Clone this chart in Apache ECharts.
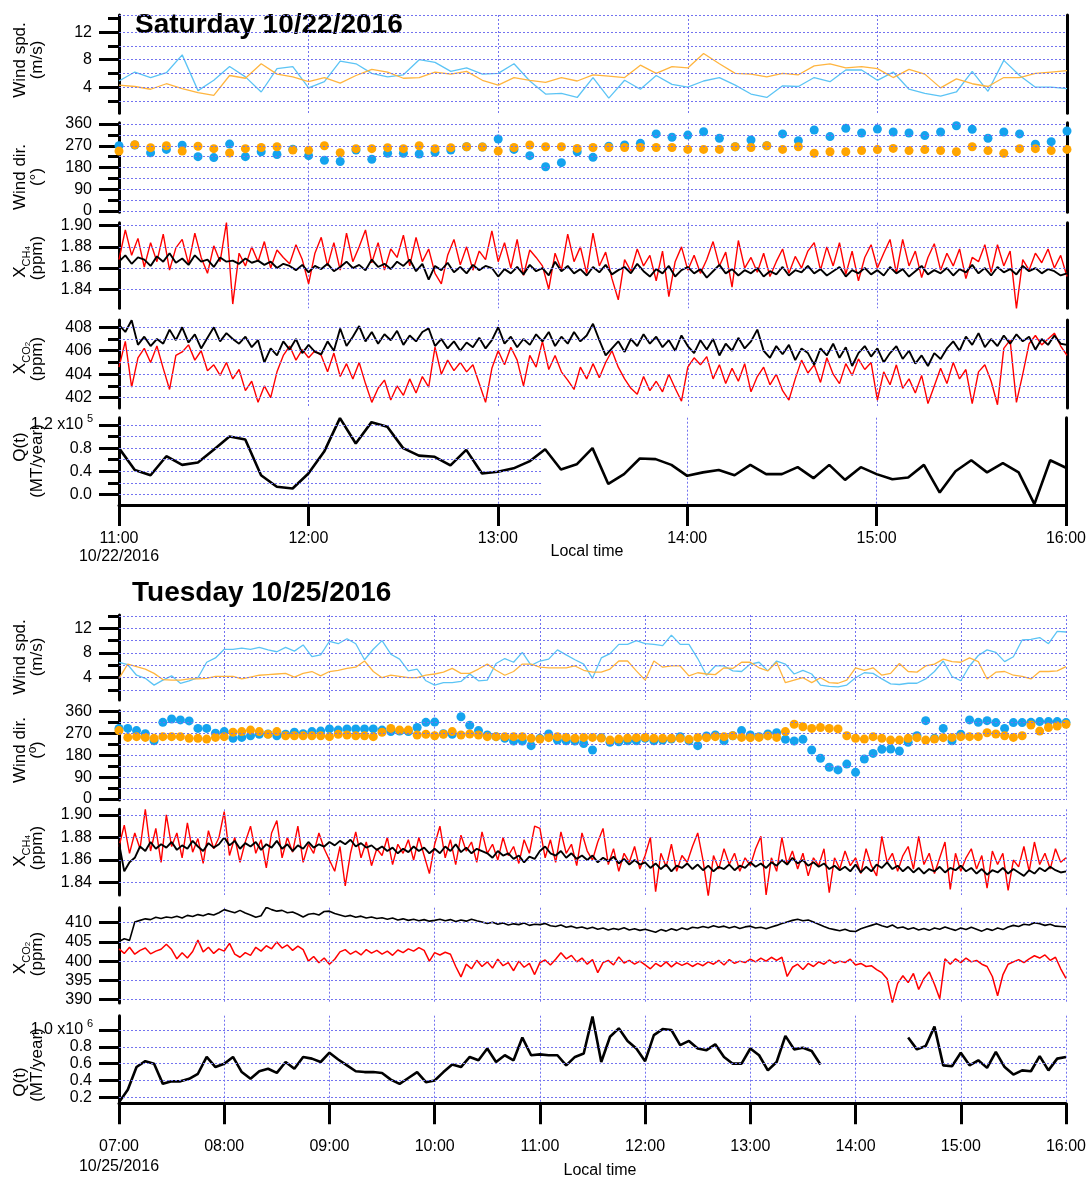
<!DOCTYPE html>
<html><head><meta charset="utf-8">
<script src="https://cdn.jsdelivr.net/npm/echarts@6/dist/echarts.min.js"></script>
<style>html,body{margin:0;padding:0;background:#fff}#c{width:1089px;height:1178px}</style>
</head><body><div id="c"></div>
<script>
// ===================== DATA =====================
// Saturday 10/22/2016 : 11:00 - 16:00
const satStart = 11;           // hours
const satStepWind = 5;         // minutes (wind, Q)
const satStepGas = 2;          // minutes (XCH4, XCO2)
const satTicksX = [11,12,13,14,15,16];

const satWsBlue = [4.9,6.2,5.4,6.1,8.7,3.5,5.0,7.0,5.5,3.3,6.7,7.0,3.9,4.8,7.8,7.4,6.0,5.5,5.8,8.0,7.6,6.3,6.8,5.9,6.0,7.4,4.9,3.0,3.1,2.5,5.4,2.4,5.0,3.7,5.7,4.4,4.0,4.9,5.4,4.3,3.0,2.5,4.2,4.1,5.4,4.8,6.5,6.5,5.0,6.2,3.7,3.1,2.7,3.3,6.3,3.4,7.9,5.7,4.0,4.0,3.8];
const satWsOrange = [4.3,4.1,3.7,4.5,3.8,3.2,2.8,5.7,5.3,7.4,5.9,5.5,4.8,5.4,4.6,5.7,6.6,6.2,5.3,5.4,6.2,5.9,6.3,5.0,4.3,5.4,5.0,4.7,5.4,4.9,5.8,5.6,5.4,7.2,6.0,7.0,6.8,8.9,7.4,6.0,5.9,5.5,6.0,5.8,7.1,7.4,6.8,7.0,6.7,5.4,6.6,5.9,3.9,5.2,4.5,4.1,5.4,5.4,6.0,6.2,6.4];
const satWdBlue = [270,273,241,255,272,225,221,277,225,245,234,256,229,210,205,252,214,239,239,236,243,252,266,265,298,255,229,183,200,245,222,268,273,280,319,305,314,328,301,266,294,270,319,291,335,308,342,323,339,327,323,312,327,353,338,301,327,319,276,287,331];
const satWdOrange = [248,274,262,270,248,268,258,240,258,263,266,252,251,270,241,258,258,262,258,270,258,262,266,265,248,263,273,266,266,259,263,263,263,263,263,263,255,255,255,266,263,270,255,266,239,245,245,250,254,259,250,254,250,245,266,250,239,258,258,250,255];
const satCh4Red = [1.868,1.896,1.872,1.888,1.861,1.884,1.866,1.892,1.858,1.879,1.887,1.864,1.893,1.870,1.855,1.881,1.866,1.903,1.826,1.874,1.862,1.880,1.866,1.885,1.860,1.877,1.870,1.864,1.882,1.868,1.845,1.874,1.889,1.862,1.884,1.858,1.893,1.866,1.880,1.896,1.865,1.884,1.858,1.878,1.870,1.891,1.862,1.889,1.866,1.878,1.855,1.845,1.872,1.887,1.863,1.880,1.858,1.876,1.868,1.895,1.866,1.884,1.860,1.887,1.853,1.877,1.870,1.862,1.840,1.874,1.858,1.892,1.866,1.880,1.855,1.893,1.862,1.875,1.850,1.830,1.868,1.857,1.878,1.862,1.872,1.848,1.876,1.833,1.866,1.880,1.858,1.872,1.855,1.868,1.885,1.862,1.875,1.842,1.886,1.860,1.870,1.856,1.874,1.852,1.866,1.878,1.855,1.871,1.860,1.876,1.884,1.858,1.880,1.862,1.884,1.854,1.876,1.848,1.870,1.882,1.860,1.874,1.887,1.855,1.887,1.862,1.876,1.851,1.870,1.883,1.858,1.874,1.862,1.878,1.850,1.870,1.866,1.882,1.856,1.882,1.862,1.876,1.822,1.868,1.858,1.874,1.865,1.878,1.860,1.872,1.852];
const satCh4Black = [1.866,1.872,1.864,1.870,1.868,1.862,1.871,1.866,1.874,1.865,1.869,1.863,1.872,1.866,1.868,1.861,1.870,1.866,1.867,1.864,1.869,1.865,1.867,1.863,1.866,1.860,1.864,1.862,1.858,1.863,1.856,1.862,1.859,1.864,1.857,1.861,1.866,1.860,1.863,1.858,1.868,1.861,1.864,1.859,1.866,1.862,1.868,1.857,1.864,1.849,1.862,1.858,1.865,1.856,1.861,1.855,1.863,1.858,1.862,1.860,1.852,1.859,1.855,1.861,1.854,1.863,1.857,1.860,1.853,1.866,1.857,1.862,1.855,1.859,1.853,1.861,1.856,1.863,1.854,1.858,1.861,1.855,1.864,1.857,1.852,1.859,1.855,1.862,1.852,1.858,1.861,1.855,1.859,1.851,1.857,1.863,1.855,1.859,1.853,1.858,1.855,1.860,1.852,1.857,1.854,1.861,1.853,1.858,1.856,1.862,1.855,1.859,1.853,1.857,1.861,1.852,1.858,1.855,1.860,1.854,1.858,1.853,1.861,1.855,1.859,1.852,1.857,1.862,1.854,1.858,1.855,1.860,1.853,1.859,1.856,1.863,1.855,1.860,1.853,1.861,1.856,1.859,1.854,1.862,1.857,1.860,1.855,1.859,1.857,1.853,1.855];
const satCo2Red = [404.6,406.8,402.9,405.4,406.2,405.0,406.4,404.5,402.7,405.6,405.9,406.5,405.2,406.0,404.3,404.8,403.9,405.0,403.6,404.4,402.6,403.4,401.6,403.0,402.0,404.2,405.6,406.4,405.2,406.1,405.4,406.0,405.6,404.2,405.8,403.8,404.9,403.6,405.0,403.2,401.6,402.8,403.5,401.8,403.0,402.2,403.6,402.4,403.8,402.9,406.3,404.0,405.2,404.3,405.0,404.2,404.8,403.2,401.6,404.5,406.0,404.8,406.3,405.2,403.0,405.6,404.6,406.8,404.4,405.6,404.2,403.5,402.7,404.6,403.6,404.9,403.7,405.0,406.0,404.6,403.6,402.8,402.3,403.8,402.6,403.4,402.5,404.0,402.8,401.7,404.6,405.4,404.8,405.5,403.6,404.8,403.2,404.5,403.4,404.9,402.5,403.8,404.6,403.1,404.0,402.6,401.8,403.6,405.2,404.1,404.8,403.3,405.4,404.0,403.2,404.9,403.9,405.3,404.4,405.0,401.8,404.2,403.1,404.8,402.8,403.6,402.4,403.9,401.5,403.0,404.5,403.2,405.0,403.6,404.4,401.5,404.2,404.8,403.4,401.4,406.2,406.9,401.6,404.0,406.6,407.3,406.5,407.0,407.5,406.4,405.6];
const satCo2Black = [408.2,407.6,408.6,406.5,407.2,406.4,407.0,406.6,407.8,406.9,408.0,406.7,407.4,406.2,407.1,408.0,406.8,407.5,407.0,406.6,407.2,406.3,406.9,405.0,406.2,405.6,406.8,406.1,407.0,405.8,406.5,405.9,405.7,406.8,406.0,407.9,406.4,407.2,408.1,406.8,407.6,406.6,407.4,406.9,407.7,406.5,407.3,406.8,407.6,407.9,406.4,407.0,406.2,406.8,406.0,406.7,406.3,407.1,406.2,406.9,408.0,406.6,407.2,406.3,407.0,406.5,407.4,406.8,407.6,406.4,407.2,406.6,407.6,406.8,407.3,408.3,406.9,405.6,406.2,406.8,405.9,407.0,406.4,407.4,406.6,407.2,406.3,406.9,406.0,407.3,406.4,405.8,406.9,406.1,407.0,405.6,406.6,406.0,407.1,406.2,406.8,407.8,406.0,405.4,406.4,405.7,406.5,405.2,406.2,405.8,404.8,406.2,405.6,406.6,405.4,406.3,404.7,405.8,406.4,405.5,406.2,405.0,405.8,406.4,405.3,406.0,404.9,405.6,404.7,405.8,405.3,406.2,406.8,406.0,407.2,406.5,407.5,406.3,407.0,406.4,407.3,406.6,407.4,406.8,407.2,406.1,407.0,406.5,407.3,406.6,406.5];
const satQ = [0.80,0.42,0.33,0.66,0.51,0.55,0.77,1.00,0.95,0.33,0.13,0.10,0.36,0.74,1.32,0.88,1.25,1.17,0.80,0.67,0.65,0.50,0.77,0.36,0.39,0.45,0.57,0.78,0.43,0.52,0.80,0.18,0.35,0.62,0.61,0.51,0.32,0.38,0.42,0.33,0.51,0.35,0.35,0.47,0.28,0.51,0.25,0.47,0.35,0.26,0.29,0.51,0.03,0.40,0.59,0.38,0.54,0.38,-0.17,0.59,0.46];

// Tuesday 10/25/2016 : 07:00 - 16:00
const tueStart = 7;
const tueStepWind = 5;
const tueStepGas = 3;
const tueTicksX = [7,8,9,10,11,12,13,14,15,16];

const tueWsBlue = [6.5,6.1,4.4,3.9,2.8,3.6,4.3,3.1,3.5,4.0,6.5,7.2,8.6,8.6,8.8,8.6,8.9,8.5,8.2,8.9,8.3,9.3,7.4,7.7,9.9,9.5,10.3,9.5,6.9,8.6,10.0,7.8,7.0,5.1,5.4,3.5,2.8,3.2,3.2,3.4,4.6,3.5,3.6,6.3,7.1,6.5,8.1,6.0,6.7,7.0,8.5,7.7,6.9,6.2,3.9,7.2,7.9,9.4,9.4,10.0,9.5,9.4,9.2,10.9,9.4,9.4,7.1,4.4,5.9,5.9,5.1,5.0,6.2,6.5,5.1,6.7,6.2,4.6,5.2,4.6,2.8,2.6,2.5,2.8,4.0,4.8,4.7,3.8,3.0,2.9,3.1,3.1,3.8,5.0,6.7,4.2,3.5,5.9,7.6,8.5,8.1,6.6,7.4,10.1,10.2,10.5,9.5,11.5,11.4];
const tueWsOrange = [3.9,6.2,5.8,5.4,4.7,3.7,3.6,3.6,3.8,3.8,3.9,4.2,4.2,4.2,3.8,4.1,4.4,4.5,4.6,4.7,4.1,4.7,5.0,4.3,5.0,5.2,5.5,5.7,6.7,5.0,4.0,4.4,4.2,4.0,4.0,4.4,4.6,4.9,5.5,4.7,4.7,5.4,6.2,5.2,4.4,5.0,6.2,6.2,5.7,5.6,5.6,5.6,5.9,5.2,4.9,4.9,5.4,6.7,6.7,5.1,3.6,6.7,5.7,5.9,5.9,4.3,4.8,4.6,4.5,5.6,5.5,6.5,6.5,5.6,5.1,6.5,3.2,3.6,4.0,3.2,4.0,3.2,3.1,3.6,5.6,5.2,5.6,4.4,4.7,6.3,5.0,4.9,5.9,6.2,7.0,6.6,6.5,7.2,6.6,3.8,4.9,5.0,4.4,4.2,3.8,5.0,5.0,5.1,5.8];
const tueWdBlue = [291,291,282,269,240,316,330,326,322,291,291,271,278,250,254,261,267,268,261,267,275,269,278,280,289,284,289,289,289,289,284,278,280,278,295,316,317,269,267,339,304,282,264,257,250,239,239,220,250,268,243,240,239,229,202,253,234,236,240,240,250,240,243,247,257,240,220,260,264,240,261,282,264,257,268,273,246,239,246,202,168,131,120,144,110,165,188,205,206,198,234,261,323,250,291,240,267,326,316,323,315,291,315,315,316,319,319,319,315];
const tueWdOrange = [282,254,257,254,250,257,257,257,250,250,247,254,257,275,278,284,278,267,278,261,261,261,261,261,257,267,264,261,261,257,275,291,284,284,264,267,261,267,278,264,268,264,257,257,257,257,257,250,247,253,257,254,250,254,254,251,243,247,251,253,254,250,250,250,250,246,253,253,257,257,261,254,253,254,260,254,278,308,298,291,295,291,289,261,250,247,257,250,243,243,250,253,243,247,253,254,257,257,257,273,268,261,254,261,305,280,295,301,308];
const tueCh4Red = [1.872,1.891,1.866,1.884,1.870,1.905,1.868,1.888,1.858,1.900,1.872,1.884,1.862,1.893,1.867,1.879,1.857,1.886,1.870,1.880,1.903,1.864,1.880,1.858,1.876,1.890,1.866,1.878,1.853,1.884,1.895,1.862,1.880,1.867,1.890,1.858,1.874,1.866,1.884,1.870,1.860,1.850,1.872,1.837,1.866,1.885,1.862,1.876,1.855,1.870,1.864,1.880,1.856,1.874,1.866,1.878,1.860,1.880,1.864,1.848,1.874,1.890,1.862,1.878,1.856,1.882,1.868,1.876,1.858,1.885,1.866,1.874,1.860,1.880,1.864,1.872,1.857,1.878,1.866,1.890,1.888,1.862,1.878,1.858,1.885,1.866,1.874,1.855,1.884,1.868,1.860,1.876,1.888,1.856,1.870,1.850,1.866,1.858,1.872,1.852,1.864,1.880,1.832,1.866,1.854,1.874,1.850,1.864,1.858,1.872,1.884,1.860,1.828,1.864,1.852,1.870,1.856,1.866,1.850,1.862,1.855,1.870,1.881,1.829,1.862,1.850,1.880,1.856,1.868,1.852,1.866,1.846,1.862,1.855,1.870,1.831,1.862,1.852,1.868,1.855,1.862,1.848,1.870,1.855,1.846,1.881,1.858,1.866,1.850,1.864,1.872,1.852,1.881,1.856,1.866,1.848,1.862,1.876,1.834,1.866,1.850,1.862,1.870,1.852,1.864,1.835,1.868,1.856,1.866,1.833,1.860,1.854,1.872,1.850,1.876,1.856,1.866,1.852,1.870,1.858,1.862];
const tueCh4Black = [1.875,1.850,1.858,1.862,1.872,1.868,1.876,1.870,1.874,1.871,1.876,1.869,1.873,1.870,1.877,1.872,1.868,1.875,1.871,1.874,1.880,1.873,1.877,1.870,1.875,1.872,1.876,1.869,1.874,1.871,1.877,1.870,1.874,1.868,1.873,1.870,1.876,1.871,1.874,1.872,1.876,1.873,1.877,1.874,1.878,1.872,1.875,1.871,1.873,1.869,1.872,1.868,1.871,1.866,1.870,1.867,1.872,1.868,1.871,1.866,1.870,1.866,1.872,1.868,1.874,1.867,1.871,1.866,1.870,1.868,1.866,1.862,1.868,1.864,1.866,1.861,1.864,1.858,1.863,1.861,1.868,1.872,1.866,1.864,1.868,1.862,1.866,1.861,1.864,1.860,1.864,1.858,1.862,1.859,1.863,1.857,1.861,1.856,1.860,1.856,1.858,1.853,1.857,1.852,1.856,1.850,1.855,1.853,1.857,1.852,1.856,1.851,1.855,1.850,1.854,1.852,1.856,1.851,1.855,1.853,1.858,1.854,1.857,1.853,1.858,1.855,1.860,1.856,1.862,1.857,1.860,1.855,1.858,1.854,1.857,1.852,1.855,1.851,1.854,1.850,1.856,1.849,1.854,1.850,1.856,1.853,1.858,1.852,1.855,1.850,1.854,1.849,1.853,1.848,1.852,1.850,1.854,1.849,1.853,1.851,1.855,1.850,1.853,1.848,1.852,1.847,1.851,1.849,1.853,1.848,1.852,1.849,1.846,1.851,1.848,1.853,1.850,1.854,1.851,1.849,1.850];
const tueCo2Red = [403.2,402.0,403.6,401.8,402.8,403.4,401.9,402.6,403.1,404.4,403.0,400.6,402.2,400.8,402.5,405.5,402.4,403.6,402.0,403.2,402.6,404.6,401.8,401.0,402.2,401.5,403.6,402.6,404.0,403.2,405.0,403.4,404.2,402.8,403.9,403.0,400.0,401.2,399.6,400.8,399.2,400.5,402.4,403.0,401.8,402.6,401.6,403.0,402.1,402.8,401.8,402.6,401.5,402.9,402.2,403.2,402.6,403.5,402.8,400.0,402.2,401.6,402.3,401.8,398.6,395.9,399.2,398.0,400.2,398.6,399.8,398.2,400.5,398.8,399.6,397.5,400.0,398.4,399.4,396.5,399.6,400.3,399.0,400.5,402.2,400.6,401.5,399.8,400.8,399.2,400.4,397.0,399.6,400.2,399.0,401.1,399.5,400.2,399.2,400.0,399.0,398.0,399.4,398.6,399.8,398.5,399.6,398.9,399.5,398.6,399.4,398.8,399.8,399.2,400.2,399.0,400.4,399.4,400.0,399.6,400.5,399.8,400.8,400.0,401.0,400.2,401.0,396.0,398.4,399.2,397.8,399.4,398.6,399.8,399.2,400.3,399.4,400.0,399.6,400.5,399.0,399.4,398.6,398.8,397.8,397.0,395.4,389.2,394.2,396.2,394.4,396.8,392.6,395.5,397.2,394.0,390.2,400.6,399.2,400.6,399.6,400.8,399.8,400.2,399.2,398.6,396.0,391.0,396.4,399.2,399.8,400.4,399.6,400.6,401.4,400.8,401.6,400.2,401.0,398.0,395.5];
const tueCo2Black = [405.1,405.8,405.4,410.2,410.6,411.0,410.8,411.4,411.1,411.5,411.3,411.7,411.2,411.9,411.6,412.1,411.8,412.3,412.0,412.6,413.4,413.0,412.6,413.2,412.5,412.0,411.4,411.8,414.0,413.4,413.0,413.2,412.6,412.8,412.2,411.5,412.2,412.4,412.0,412.9,413.0,412.4,412.0,411.6,411.9,411.4,411.7,411.2,411.5,411.1,411.3,410.9,411.2,410.7,411.0,410.6,410.9,410.5,410.8,410.4,410.6,410.9,410.5,410.8,410.3,410.7,410.4,410.9,410.5,410.2,409.8,410.1,409.6,409.9,409.4,409.7,409.5,409.9,409.3,409.6,409.5,409.8,409.2,409.0,409.4,408.8,409.1,408.6,408.9,408.4,408.8,408.3,408.6,408.1,408.5,408.2,408.7,408.1,408.4,408.0,408.3,407.9,407.5,408.2,407.8,408.4,408.0,408.6,408.2,408.8,408.6,409.0,408.7,409.2,408.8,409.1,408.6,409.0,408.5,408.9,409.1,408.6,408.8,408.4,408.9,409.3,409.8,410.2,410.6,410.9,410.5,410.7,410.2,409.6,409.0,408.5,408.2,407.9,408.3,407.8,407.7,408.4,408.9,409.3,409.7,409.2,408.8,409.4,408.6,408.9,408.3,408.7,408.1,408.5,408.0,408.6,408.3,408.9,408.4,408.0,408.6,408.2,408.8,408.3,407.8,408.4,408.0,408.6,408.2,408.9,409.3,409.0,409.6,409.4,410.0,409.7,409.3,409.6,409.1,409.0,408.9];
const tueQ = [0.14,0.29,0.56,0.63,0.60,0.36,0.39,0.39,0.42,0.48,0.68,0.56,0.60,0.68,0.50,0.42,0.51,0.54,0.49,0.62,0.54,0.68,0.66,0.62,0.73,0.65,0.58,0.51,0.50,0.50,0.49,0.41,0.36,0.43,0.50,0.38,0.40,0.50,0.59,0.56,0.68,0.64,0.78,0.62,0.70,0.64,0.91,0.70,0.71,0.70,0.70,0.58,0.68,0.72,1.16,0.62,0.92,1.02,0.87,0.78,0.63,0.94,1.01,1.00,0.82,0.87,0.78,0.76,0.83,0.68,0.60,0.60,0.78,0.70,0.52,0.62,0.93,0.77,0.79,0.75,0.59,null,null,null,null,null,null,null,null,null,0.91,0.77,0.81,1.04,0.58,0.57,0.73,0.58,0.64,0.55,0.74,0.56,0.47,0.52,0.51,0.69,0.52,0.66,0.68];

// Tick label values
const wsTicks = [4,8,12], wsMinor = [2,6,10,14];
const wdTicks = [0,90,180,270,360], wdMinor = [45,135,225,315];
const ch4Ticks = [1.84,1.86,1.88,1.90];
const satCo2Ticks = [402,404,406,408], satCo2Minor = [403,405,407];
const satQTicks = [0.0,0.4,0.8,1.2], satQMinor = [0.2,0.6,1.0];
const tueCo2Ticks = [390,395,400,405,410];
const tueQTicks = [0.2,0.4,0.6,0.8,1.0];

// ===================== STYLE / LAYOUT =====================
const FONT = '"Liberation Sans", Arial, Helvetica, sans-serif';
const GRIDC = '#7373f0';
const BLUE_LINE = '#5cc4f5', ORANGE_LINE = '#ffb53f', BLUE_DOT = '#14a3ee', ORANGE_DOT = '#ffa500';

function pts(arr, start, stepMin) {
  const out = [];
  for (let i = 0; i < arr.length; i++) out.push([start + i * stepMin / 60, arr[i] == null ? '-' : arr[i]]);
  return out;
}
const ln = (data, color, width) => ({type:'line', data, symbol:'none', showSymbol:false, lineStyle:{color, width}, itemStyle:{color}, z:3});
const sc = (data, color) => ({type:'scatter', data, symbol:'circle', symbolSize:9, itemStyle:{color, opacity:1}, z:3});
const range = (a, b, s) => { const r = []; for (let v = a; v <= b + 1e-9; v += s) r.push(+v.toFixed(4)); return r; };

const subX = () => ({x:{fontSize:17, lineHeight:24}, s:{fontSize:11, lineHeight:13, verticalAlign:'bottom'}, t:{fontSize:8, lineHeight:7, verticalAlign:'bottom'}});
const f2 = v => v.toFixed(2), f0 = v => String(v), f1 = v => v.toFixed(1);

const panels = [
  {left:119, width:948, xmin:11, xmax:16, date:'10/22/2016', labMargin:25, labLH:18, rightAxis:true,
   title:['Saturday 10/22/2016', 135, 25], local:[587, 552],
   subs:[
    {top:15, bottom:113.3, ymin:0.2, ymax:14.5, major:wsTicks, minor:wsMinor, gridVals:[2,4,6,8,10,12,14.5], fmt:f0,
     names:[['Wind spd.',20,60],['(m/s)',37.5,60]],
     series:[ln(pts(satWsBlue,satStart,satStepWind),BLUE_LINE,1.3), ln(pts(satWsOrange,satStart,satStepWind),ORANGE_LINE,1.3)]},
    {top:122.8, bottom:212.2, ymin:-5, ymax:365, major:wdTicks, minor:wdMinor, gridVals:range(0,360,45), fmt:f0,
     names:[['Wind dir.',20,177],['(°)',37.5,177]],
     series:[sc(pts(satWdBlue,satStart,satStepWind),BLUE_DOT), sc(pts(satWdOrange,satStart,satStepWind),ORANGE_DOT)]},
    {top:222.7, bottom:308.3, ymin:1.822, ymax:1.9028, major:ch4Ticks, gridVals:ch4Ticks, fmt:f2,
     names:[['{x|X}{s|CH}{t|4}',20,262,true],['(ppm)',37.5,258]],
     series:[ln(pts(satCh4Red,satStart,satStepGas),'#ff0000',1.4), ln(pts(satCh4Black,satStart,satStepGas),'#000000',1.9)]},
    {top:320, bottom:408, ymin:401.12, ymax:408.62, major:satCo2Ticks, minor:satCo2Minor, gridVals:range(402,408,1), fmt:f0,
     names:[['{x|X}{s|CO}{t|2}',20,358,true],['(ppm)',37.5,359]],
     series:[ln(pts(satCo2Red,satStart,satStepGas),'#ff0000',1.4), ln(pts(satCo2Black,satStart,satStepGas),'#000000',1.9)]},
    {top:417.7, bottom:505, ymin:-0.185, ymax:1.327, major:satQTicks, minor:satQMinor, gridVals:range(0,1.2,0.2), gridXEnd:13.236,
     fmt: v => v === 1.2 ? '1.2 x10  ' : f1(v), sup:['5', 1.2],
     names:[['Q(t)',20,447],['(MT/year)',37.5,461]],
     series:[ln(pts(satQ,satStart,satStepWind),'#000000',2.6)]}
   ]},
  {left:119, width:947, xmin:7, xmax:16, date:'10/25/2016', labMargin:33, labLH:20, rightAxis:false,
   title:['Tuesday 10/25/2016', 132, 593], local:[600, 1171],
   subs:[
    {top:615, bottom:700, ymin:0.39, ymax:14.15, major:wsTicks, minor:wsMinor, gridVals:range(2,14,2), fmt:f0,
     names:[['Wind spd.',20,657],['(m/s)',37.5,657]],
     series:[ln(pts(tueWsBlue,tueStart,tueStepWind),BLUE_LINE,1.3), ln(pts(tueWsOrange,tueStart,tueStepWind),ORANGE_LINE,1.3)]},
    {top:710.7, bottom:800, ymin:-4, ymax:364, major:wdTicks, minor:wdMinor, gridVals:range(0,360,45), fmt:f0,
     names:[['Wind dir.',20,750],['(º)',37.5,750]],
     series:[sc(pts(tueWdBlue,tueStart,tueStepWind),BLUE_DOT), sc(pts(tueWdOrange,tueStart,tueStepWind),ORANGE_DOT)]},
    {top:809.3, bottom:895, ymin:1.829, ymax:1.905, major:ch4Ticks, gridVals:ch4Ticks, fmt:f2,
     names:[['{x|X}{s|CH}{t|4}',20,851,true],['(ppm)',37.5,848]],
     series:[ln(pts(tueCh4Red,tueStart,tueStepGas),'#ff0000',1.4), ln(pts(tueCh4Black,tueStart,tueStepGas),'#000000',1.9)]},
    {top:907.7, bottom:1003, ymin:389.1, ymax:413.9, major:tueCo2Ticks, gridVals:tueCo2Ticks, fmt:f0,
     names:[['{x|X}{s|CO}{t|2}',20,958,true],['(ppm)',37.5,954]],
     series:[ln(pts(tueCo2Red,tueStart,tueStepGas),'#ff0000',1.5), ln(pts(tueCo2Black,tueStart,tueStepGas),'#000000',1.6)]},
    {top:1015.7, bottom:1103.3, ymin:0.129, ymax:1.17, major:tueQTicks, gridVals:tueQTicks,
     fmt: v => v === 1.0 ? '1.0 x10  ' : f1(v), sup:['6', 1.0],
     names:[['Q(t)',20,1082],['(MT/year)',37.5,1065]],
     series:[ln(pts(tueQ,tueStart,tueStepWind),'#000000',2.6)]}
   ]}
];

const grids = [], xAxes = [], yAxes = [], series = [], graphics = [];
const pad2 = n => String(n).padStart(2, '0');
const LABEL_MARGIN = 27;

panels.forEach(P => {
  graphics.push({type:'text', x:P.title[1], y:P.title[2], style:{text:P.title[0], fontSize:28, fontWeight:'bold', fontFamily:FONT, fill:'#000', align:'left', verticalAlign:'middle'}});
  graphics.push({type:'text', x:P.local[0], y:P.local[1], style:{text:'Local time', fontSize:16, fontFamily:FONT, fill:'#000', align:'center', verticalAlign:'middle'}});
  P.subs.forEach((S, k) => {
    const isLast = k === P.subs.length - 1;
    const gi = grids.length;
    grids.push({left:P.left, width:P.width, top:S.top, height:S.bottom - S.top});
    xAxes.push({gridIndex:gi, type:'value', min:P.xmin, max:P.xmax, interval:1,
      axisLine:{show:isLast, onZero:false, lineStyle:{color:'#000', width:3}},
      axisTick:{show:isLast, length:21, lineStyle:{color:'#000', width:3}},
      axisLabel:{show:isLast, showMinLabel:true, showMaxLabel:true, margin:P.labMargin, fontSize:16, lineHeight:P.labLH, color:'#000', fontFamily:FONT,
        formatter: v => { const h = pad2(Math.round(v)) + ':00'; return Math.abs(v - P.xmin) < 1e-6 ? h + '\n' + P.date : h; }},
      splitLine:{show:true, lineStyle:{color:GRIDC, width:1, type:[2,2]}}
    });
    const yMain = yAxes.length;
    yAxes.push({gridIndex:gi, type:'value', position:'left', min:S.ymin, max:S.ymax,
      axisLine:{show:true, onZero:false, lineStyle:{color:'#000', width:3}},
      axisTick:{show:true, length:20, customValues:S.major, lineStyle:{color:'#000', width:3}},
      axisLabel:{show:true, customValues:S.major, interval:0, showMinLabel:true, showMaxLabel:true, hideOverlap:false,
        margin:LABEL_MARGIN, fontSize:16, lineHeight:15, color:'#000', fontFamily:FONT, formatter:S.fmt},
      splitLine:{show:false}});
    if (S.minor) yAxes.push({gridIndex:gi, type:'value', position:'left', min:S.ymin, max:S.ymax,
      axisLine:{show:false, onZero:false}, axisTick:{show:true, length:11, customValues:S.minor, lineStyle:{color:'#000', width:3}},
      axisLabel:{show:false}, splitLine:{show:false}});
    if (P.rightAxis) yAxes.push({gridIndex:gi, type:'value', position:'right', min:S.ymin, max:S.ymax,
      axisLine:{show:true, onZero:false, lineStyle:{color:'#000', width:3}}, axisTick:{show:false}, axisLabel:{show:false}, splitLine:{show:false}});
    // exponent of the scaled tick label, placed at that tick's pixel position
    if (S.sup) {
      const py = S.top + (S.ymax - S.sup[1]) / (S.ymax - S.ymin) * (S.bottom - S.top);
      graphics.push({type:'text', x:P.left - LABEL_MARGIN + 1, y:py - 6, style:{text:S.sup[0], fontSize:11, fontFamily:FONT, fill:'#000', align:'right', verticalAlign:'middle'}});
    }
    const xEnd = S.gridXEnd != null ? S.gridXEnd : P.xmax;
    series.push({type:'line', xAxisIndex:gi, yAxisIndex:yMain, data:[[P.xmin, S.gridVals[0]]], symbol:'none', showSymbol:false,
      lineStyle:{opacity:0}, silent:true, z:1,
      markLine:{silent:true, symbol:['none','none'], label:{show:false}, emphasis:{disabled:true}, animation:false,
        lineStyle:{color:GRIDC, width:1, type:[2,2]},
        data:S.gridVals.map(v => [{coord:[P.xmin, v]}, {coord:[xEnd, v]}])}});
    S.series.forEach(s => series.push(Object.assign({}, s, {xAxisIndex:gi, yAxisIndex:yMain})));
    S.names.forEach(n => {
      const st = {text:n[0], fontSize:17, fontFamily:FONT, fill:'#000', align:'center', verticalAlign:'middle'};
      if (n[3]) st.rich = subX();
      graphics.push({type:'text', x:n[1], y:n[2], rotation:Math.PI / 2, style:st});
    });
  });
});

const chart = echarts.init(document.getElementById('c'), null, {renderer:'canvas'});
chart.setOption({
  animation:false,
  backgroundColor:'#fff',
  grid:grids, xAxis:xAxes, yAxis:yAxes, series:series,
  graphic:{elements:graphics}
});
</script></body></html>
